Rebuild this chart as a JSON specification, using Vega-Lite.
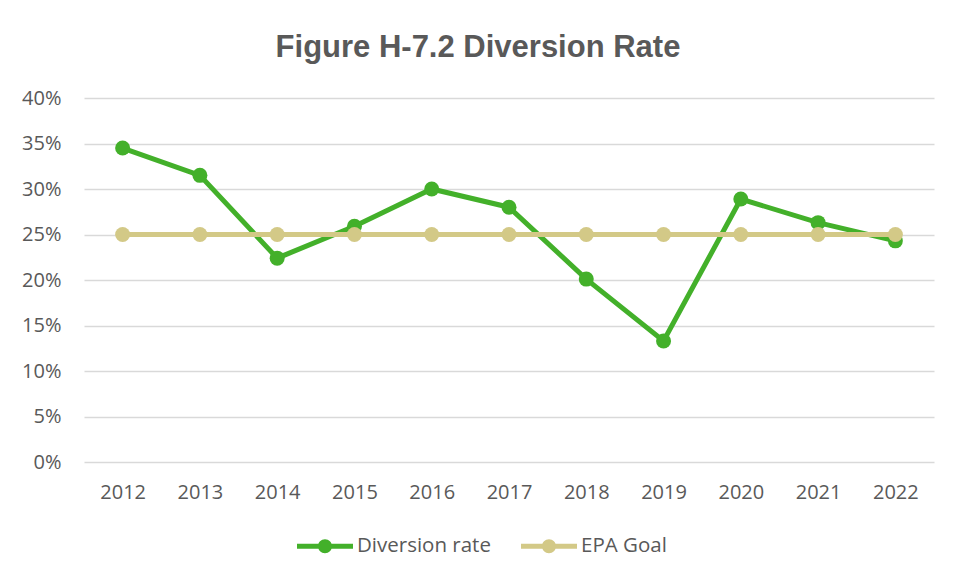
{
  "$schema": "https://vega.github.io/schema/vega-lite/v6.json",
  "autosize": {"type": "none"},
  "width": 850,
  "height": 364,
  "padding": {"left": 84, "top": 98, "right": 22, "bottom": 119},
  "background": "white",
  "title": {
    "text": "Figure H-7.2 Diversion Rate",
    "font": "Liberation Sans",
    "fontSize": 31,
    "fontWeight": "bold",
    "color": "#595959",
    "anchor": "middle",
    "dx": -31,
    "offset": 24
  },
  "data": {
    "values": [
      {"year": "2012", "series": "Diversion rate", "value": 0.345},
      {"year": "2013", "series": "Diversion rate", "value": 0.315},
      {"year": "2014", "series": "Diversion rate", "value": 0.224},
      {"year": "2015", "series": "Diversion rate", "value": 0.259},
      {"year": "2016", "series": "Diversion rate", "value": 0.300},
      {"year": "2017", "series": "Diversion rate", "value": 0.280},
      {"year": "2018", "series": "Diversion rate", "value": 0.201},
      {"year": "2019", "series": "Diversion rate", "value": 0.133},
      {"year": "2020", "series": "Diversion rate", "value": 0.289},
      {"year": "2021", "series": "Diversion rate", "value": 0.263},
      {"year": "2022", "series": "Diversion rate", "value": 0.243},
      {"year": "2012", "series": "EPA Goal", "value": 0.25},
      {"year": "2013", "series": "EPA Goal", "value": 0.25},
      {"year": "2014", "series": "EPA Goal", "value": 0.25},
      {"year": "2015", "series": "EPA Goal", "value": 0.25},
      {"year": "2016", "series": "EPA Goal", "value": 0.25},
      {"year": "2017", "series": "EPA Goal", "value": 0.25},
      {"year": "2018", "series": "EPA Goal", "value": 0.25},
      {"year": "2019", "series": "EPA Goal", "value": 0.25},
      {"year": "2020", "series": "EPA Goal", "value": 0.25},
      {"year": "2021", "series": "EPA Goal", "value": 0.25},
      {"year": "2022", "series": "EPA Goal", "value": 0.25}
    ]
  },
  "mark": {
    "type": "line",
    "strokeWidth": 5,
    "point": {"filled": true, "size": 225, "opacity": 1}
  },
  "encoding": {
    "x": {
      "field": "year",
      "type": "ordinal",
      "title": null,
      "scale": {"type": "point", "padding": 0.5},
      "axis": {
        "domain": false,
        "ticks": false,
        "grid": false,
        "labelAngle": 0,
        "labelFont": "Open Sans",
        "labelFontSize": 20,
        "labelColor": "#595959",
        "labelPadding": 20
      }
    },
    "y": {
      "field": "value",
      "type": "quantitative",
      "title": null,
      "scale": {"domain": [0, 0.4], "nice": false, "zero": true},
      "axis": {
        "values": [0, 0.05, 0.1, 0.15, 0.2, 0.25, 0.3, 0.35, 0.4],
        "format": ".0%",
        "domain": false,
        "ticks": false,
        "gridColor": "#d9d9d9",
        "gridWidth": 1.5,
        "labelFont": "Open Sans",
        "labelFontSize": 20,
        "labelColor": "#595959",
        "labelPadding": 23
      }
    },
    "color": {
      "field": "series",
      "type": "nominal",
      "scale": {"domain": ["Diversion rate", "EPA Goal"], "range": ["#43b02a", "#d3c987"]},
      "legend": {
        "title": null,
        "orient": "none",
        "legendX": 213,
        "legendY": 420,
        "direction": "horizontal",
        "labelFont": "Open Sans",
        "labelFontSize": 20.5,
        "labelColor": "#595959",
        "labelOffset": 4,
        "columnPadding": 30,
        "symbolSize": 3136,
        "symbolStrokeWidth": 0,
        "symbolType": "M-1,-0.09 L1,-0.09 L1,0.09 L-1,0.09 Z M0.25,0 A0.25,0.25 0 1,1 -0.25,0 A0.25,0.25 0 1,1 0.25,0 Z"
      }
    }
  },
  "config": {
    "view": {"stroke": null}
  }
}
